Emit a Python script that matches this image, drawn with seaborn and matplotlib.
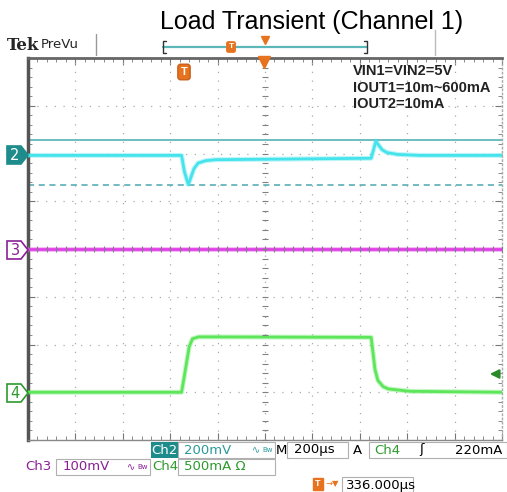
import numpy as np
import seaborn as sns
import matplotlib.pyplot as plt
from matplotlib.patches import Rectangle, Polygon

# --- trace data (x in divisions, y in divisions from centre) ---
ch2_t = [0, 3.24, 3.30, 3.38, 3.42, 3.50, 3.59, 3.75, 3.95, 7.24, 7.34, 7.40, 7.47, 7.57, 7.80, 8.27, 10]
ch2_v = [1.96, 1.96, 1.62, 1.35, 1.45, 1.68, 1.80, 1.85, 1.87, 1.90, 2.26, 2.17, 2.08, 2.02, 1.98, 1.96, 1.96]
ch3_t = [0, 10]
ch3_v = [0.0, 0.0]
ch4_t = [0, 3.24, 3.30, 3.40, 3.47, 3.60, 7.24, 7.32, 7.38, 7.49, 7.60, 8.06, 10]
ch4_v = [-3.0, -3.0, -2.65, -2.05, -1.88, -1.84, -1.85, -2.52, -2.75, -2.88, -2.93, -2.98, -3.0]
cursor_solid = 2.28
cursor_dash = 1.35

notes = ["VIN1=VIN2=5V", "IOUT1=10m~600mA", "IOUT2=10mA"]
title = "Load Transient (Channel 1)"

sns.set_theme(style="white")
plt.rcParams['font.family'] = ['Liberation Sans', 'DejaVu Sans']

fig = plt.figure(figsize=(5.07, 4.92), dpi=100)
ax = fig.add_axes([28 / 507, 52 / 492, 474 / 507, 382 / 492])
ax.set_xlim(0, 10)
ax.set_ylim(-4, 4)
ax.set_facecolor('white')

# graticule
grid_col = '#ababab'
for gx in range(1, 10):
    ax.axvline(gx, color=grid_col, lw=0.9, ls=(0, (1, 6)), zorder=1)
for gy in range(-3, 4):
    ax.axhline(gy, color=grid_col, lw=0.9, ls=(0, (1, 6)), zorder=1)
sub = np.arange(0, 10.01, 0.2)
ax.plot(sub, np.zeros_like(sub), ls='none', marker='|', ms=5, mew=0.8, color='#808080', zorder=4)
suby = np.arange(-4, 4.01, 0.2)
ax.plot(np.full_like(suby, 5), suby, ls='none', marker='_', ms=5, mew=0.8, color='#808080', zorder=4)

ax.set_xticks(range(0, 11))
ax.set_xticks(sub, minor=True)
ax.set_yticks(range(-4, 5))
ax.set_yticks(suby, minor=True)
ax.tick_params(which='both', direction='in', top=True, right=True, bottom=True, left=True,
               labelbottom=False, labelleft=False, color='#777777')
ax.tick_params(which='major', length=5, width=0.8)
ax.tick_params(which='minor', length=3, width=0.6)
ax.spines['left'].set_color('#555555')
ax.spines['left'].set_linewidth(2.5)
ax.spines['top'].set_color('#666666')
ax.spines['top'].set_linewidth(2)
ax.spines['bottom'].set_color('#888888')
ax.spines['bottom'].set_linewidth(1)
ax.spines['right'].set_color('#aaaaaa')
ax.spines['right'].set_linewidth(1)
ax.spines['right'].set_linestyle((0, (1, 2)))

# cursors
ax.axhline(cursor_solid, color='#5fb8bc', lw=1.3, zorder=2)
ax.axhline(cursor_dash, color='#4aa8b0', lw=1.1, ls=(0, (4, 3)), zorder=2)

# traces
for t, v, col in [(ch3_t, ch3_v, '#e040e8'), (ch2_t, ch2_v, '#45e3ec'), (ch4_t, ch4_v, '#5de65a')]:
    sns.lineplot(x=t, y=v, ax=ax, color=col, lw=3.6, alpha=0.35, estimator=None, sort=False, zorder=3)
    sns.lineplot(x=t, y=v, ax=ax, color=col, lw=2.0, estimator=None, sort=False, zorder=3)

# overlay in pixel coordinates for scope decorations
ov = fig.add_axes([0, 0, 1, 1], zorder=5)
ov.set_xlim(0, 507)
ov.set_ylim(492, 0)
ov.axis('off')

orange = '#e8731e'
teal = '#1f8c8c'
purple = '#8a1f96'
green = '#2e9a2e'

ov.text(312, 22, title, ha='center', va='center', fontsize=18, color='black')
ov.text(7, 46, 'Tek', ha='left', va='center', fontsize=12, fontweight='bold', family='DejaVu Serif')
ov.text(41, 45, 'PreVu', ha='left', va='center', fontsize=9.5, family='DejaVu Sans')
ov.plot([96, 96], [34, 55], color='#999999', lw=1)
ov.plot([435, 435], [30, 55], color='#bbbbbb', lw=1)

# record bar
ov.plot([163, 367], [47, 47], color='#5cb8b8', lw=1.6)
ov.plot([166, 163, 163, 166], [41, 41, 53, 53], color='#333333', lw=1)
ov.plot([364, 367, 367, 364], [41, 41, 53, 53], color='#333333', lw=1)
ov.text(231, 47, 'T', ha='center', va='center', fontsize=6, fontweight='bold', color='white',
        bbox=dict(boxstyle='round,pad=0.2', fc=orange, ec=orange))
ov.plot(265, 40, marker='v', ms=6, color=orange)

# trigger markers
ov.plot(264, 62, marker='v', ms=9, color=orange)
ov.text(184, 72, 'T', ha='center', va='center', fontsize=8, fontweight='bold', color='white',
        bbox=dict(boxstyle='round,pad=0.25', fc=orange, ec='#c8601a'))
ov.annotate('', xy=(487, 374), xytext=(501, 374),
            arrowprops=dict(arrowstyle='-|>', color='#2a8a2a', lw=1.6, mutation_scale=13))

# annotation text
for i, line in enumerate(notes):
    ov.text(353, 71 + i * 16.5, line, ha='left', va='center', fontsize=10.5, fontweight='bold', color='#222222')

# channel markers
def chan_marker(y, label, fc, ec, tc):
    ov.add_patch(Polygon([(7, y - 9), (21, y - 9), (28, y), (21, y + 9), (7, y + 9)],
                         closed=True, fc=fc, ec=ec, lw=1.2))
    ov.text(15, y + 0.5, label, ha='center', va='center', fontsize=10.5, color=tc, family='DejaVu Sans')

chan_marker(155, '2', teal, teal, 'white')
chan_marker(250, '3', 'white', purple, purple)
chan_marker(393, '4', 'white', green, green)

# status bar
fs = 9.5
box_col = '#b0b0b0'
def box(x0, x1, y0, y1):
    ov.add_patch(Rectangle((x0, y0), x1 - x0, y1 - y0, fc='none', ec=box_col, lw=0.8))

ov.add_patch(Rectangle((151, 442), 27, 16, fc='#1f8c8c', ec='none'))
ov.text(164.5, 450, 'Ch2', ha='center', va='center', fontsize=fs, color='white', family='DejaVu Sans')
box(178, 275, 442, 458)
ov.text(184, 450, '200mV', ha='left', va='center', fontsize=fs, color='#2a9a9a', family='DejaVu Sans')
ov.text(256, 450, '\u223f', ha='center', va='center', fontsize=7, color='#2a9a9a', family='DejaVu Sans')
ov.text(268, 450, 'Bw', ha='center', va='center', fontsize=5, color='#2a9a9a', family='DejaVu Sans')
ov.text(276, 450, 'M', ha='left', va='center', fontsize=fs, color='black', family='DejaVu Sans')
box(287, 348, 442, 458)
ov.text(294, 450, '200\u00b5s', ha='left', va='center', fontsize=fs, color='black', family='DejaVu Sans')
ov.text(357, 450, 'A', ha='center', va='center', fontsize=fs, color='black', family='DejaVu Sans')
box(369, 507, 442, 458)
ov.text(374, 450, 'Ch4', ha='left', va='center', fontsize=fs, color=green, family='DejaVu Sans')
ov.text(421, 450, '\u0283', ha='center', va='center', fontsize=fs, color='black', family='DejaVu Sans')
ov.text(502, 450, '220mA', ha='right', va='center', fontsize=fs, color='black', family='DejaVu Sans')

ov.text(25, 467, 'Ch3', ha='left', va='center', fontsize=fs, color=purple, family='DejaVu Sans')
box(56, 150, 459, 475)
ov.text(63, 467, '100mV', ha='left', va='center', fontsize=fs, color=purple, family='DejaVu Sans')
ov.text(131, 467, '\u223f', ha='center', va='center', fontsize=7, color=purple, family='DejaVu Sans')
ov.text(143, 467, 'Bw', ha='center', va='center', fontsize=5, color=purple, family='DejaVu Sans')
ov.text(152, 467, 'Ch4', ha='left', va='center', fontsize=fs, color=green, family='DejaVu Sans')
box(178, 275, 459, 475)
ov.text(184, 467, '500mA \u03a9', ha='left', va='center', fontsize=fs, color=green, family='DejaVu Sans')

ov.text(318, 484, 'T', ha='center', va='center', fontsize=6.5, fontweight='bold', color='white',
        bbox=dict(boxstyle='square,pad=0.2', fc=orange, ec=orange))
ov.text(325, 484, '\u2192\u25bc', ha='left', va='center', fontsize=6, color=orange, family='DejaVu Sans')
box(342, 413, 477, 492)
ov.text(346, 485, '336.000\u00b5s', ha='left', va='center', fontsize=fs, color='black', family='DejaVu Sans')

plt.savefig('out.png', dpi=100)
